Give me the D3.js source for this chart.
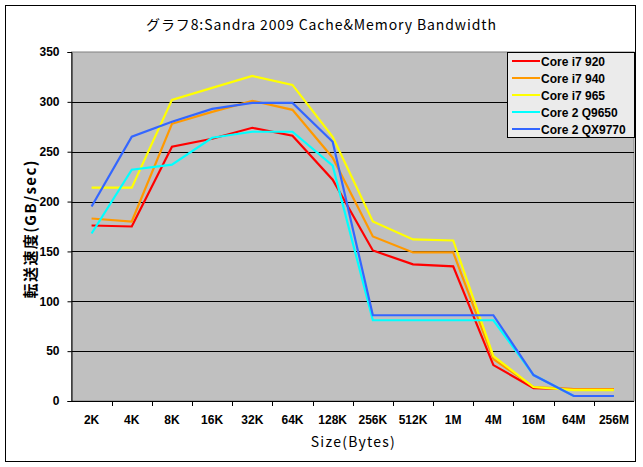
<!DOCTYPE html>
<html><head><meta charset="utf-8">
<script src="https://cdn.jsdelivr.net/npm/d3@7"></script>
<style>body{margin:0;background:#fff}svg{display:block}</style>
</head><body>
<svg id="c" width="643" height="467"></svg>
<script>
const categories = ["2K","4K","8K","16K","32K","64K","128K","256K","512K","1M","4M","16M","64M","256M"];
const seriesNames = ["Core i7 920","Core i7 940","Core i7 965","Core 2 Q9650","Core 2 QX9770"];
const coreI7_920  = [176,175,255,263,274,266,222,151,137,135,36,13,12,12];
const coreI7_940  = [183,180,278,290,301,292,244,165,149,149,42,14,12,12];
const coreI7_965  = [214,214,302,314,326,317,265,180,162,161,45,14,11,11];
const core2_Q9650 = [168,232,237,264,270,270,236,81,81,81,81,26,5,5];
const core2_QX9770= [195,265,280,293,299,299,260,86,86,86,86,26,5,5];
const yTicks = [0,50,100,150,200,250,300,350];
const colors = ["#ff0000","#ff9900","#ffff00","#00ffff","#3366ff"];
const allSeries = [coreI7_920, coreI7_940, coreI7_965, core2_Q9650, core2_QX9770];

const svg = d3.select("#c");
const L = 71.5, R = 634, T = 52, B = 401;
const fontLat = "'Liberation Sans', Arial, sans-serif";
const fontJp = "'Noto Sans CJK JP', sans-serif";

svg.append("rect").attr("x",5.5).attr("y",5.5).attr("width",630).attr("height",456)
  .attr("fill","#fff").attr("stroke","#000").attr("stroke-width",1);

const x = d3.scalePoint().domain(categories).range([L,R]).padding(0.5);
const xb = d3.scaleBand().domain(categories).range([L,R]);
const y = d3.scaleLinear().domain([0,350]).range([B,T]);

svg.append("rect").attr("x",L).attr("y",T).attr("width",R-L).attr("height",B-T)
  .attr("fill","#c0c0c0").attr("stroke","#808080");

// gridlines
svg.append("g").selectAll("line").data(yTicks.filter(d=>d>0&&d<350)).join("line")
  .attr("x1",L).attr("x2",R).attr("y1",d=>Math.round(y(d))+0.5).attr("y2",d=>Math.round(y(d))+0.5)
  .attr("stroke","#000");

// y axis
const ya = svg.append("g").attr("transform",`translate(${L},0)`)
  .call(d3.axisLeft(y).tickValues(yTicks).tickSize(4).tickPadding(8));
ya.select(".domain").attr("stroke","#000");
ya.selectAll("text").attr("font-family",fontLat).attr("font-weight","bold").attr("font-size",12).attr("fill","#000");

// x axis
const xa = svg.append("g").attr("transform",`translate(0,${B})`);
xa.append("line").attr("x1",L).attr("x2",R).attr("y1",0.5).attr("y2",0.5).attr("stroke","#000");
xa.selectAll("line.t").data(categories.slice(1)).join("line").attr("class","t")
  .attr("x1",d=>Math.round(xb(d))+0.5).attr("x2",d=>Math.round(xb(d))+0.5).attr("y1",0).attr("y2",5).attr("stroke","#000");
xa.selectAll("text").data(categories).join("text")
  .attr("x",d=>x(d)).attr("y",23).attr("text-anchor","middle")
  .attr("font-family",fontLat).attr("font-weight","bold").attr("font-size",12).text(d=>d);

// lines
const line = d3.line().x((d,i)=>x(categories[i])).y(d=>y(d));
allSeries.forEach((s,k)=>{
  svg.append("path").datum(s).attr("d",line).attr("fill","none")
    .attr("stroke",colors[k]).attr("stroke-width",2.2).attr("stroke-linejoin","miter");
});

// titles
svg.append("text").attr("x",321).attr("y",30).attr("text-anchor","middle")
  .attr("font-family",fontJp).attr("font-size",14)
  .attr("textLength",350).attr("lengthAdjust","spacing")
  .text("グラフ8:Sandra 2009 Cache&Memory Bandwidth");
svg.append("text").attr("x",(L+R)/2).attr("y",447).attr("text-anchor","middle")
  .attr("font-family",fontJp).attr("font-size",14)
  .attr("textLength",84).attr("lengthAdjust","spacing").text("Size(Bytes)");
svg.append("text").attr("transform",`translate(36,${(T+B)/2+3}) rotate(-90)`).attr("text-anchor","middle")
  .attr("font-family",fontJp).attr("font-weight","bold").attr("font-size",15)
  .attr("textLength",138).attr("lengthAdjust","spacing").text("転送速度(GB/sec)");

// legend
const lg = svg.append("g");
lg.append("rect").attr("x",507.5).attr("y",52.5).attr("width",127).attr("height",85)
  .attr("fill","#ebebeb").attr("stroke","#000");
seriesNames.forEach((n,k)=>{
  const yy = 61 + k*17;
  lg.append("line").attr("x1",512).attr("x2",540).attr("y1",yy).attr("y2",yy)
    .attr("stroke",colors[k]).attr("stroke-width",2);
  lg.append("text").attr("x",541).attr("y",yy+4.5).attr("font-family",fontLat)
    .attr("font-weight","bold").attr("font-size",12).text(n);
});
</script>
</body></html>
